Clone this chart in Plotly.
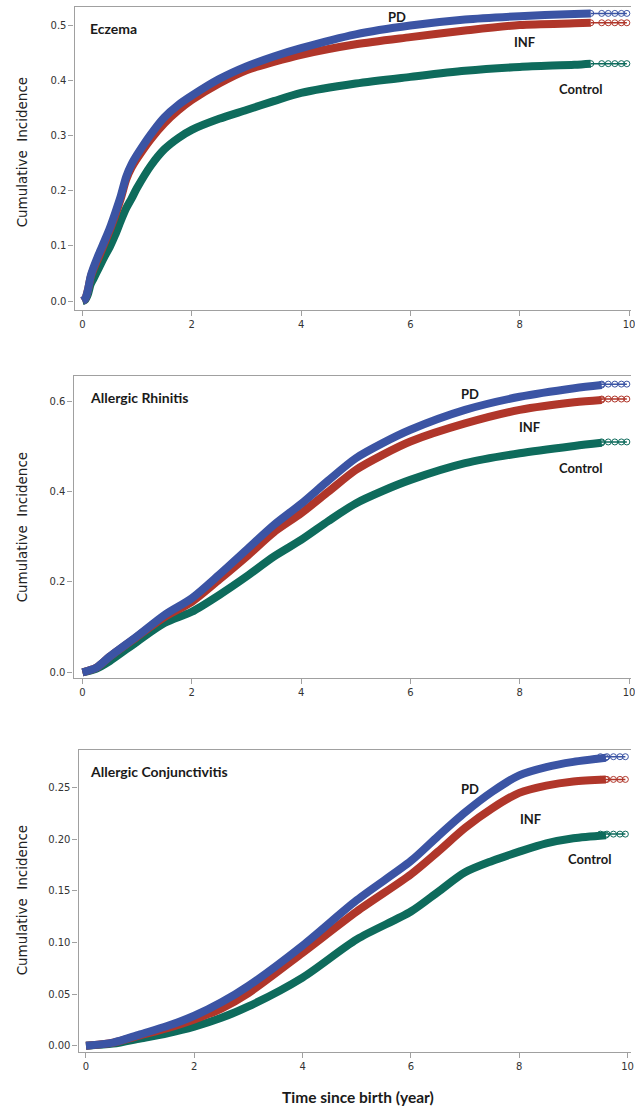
import plotly.graph_objects as go

W, H = 635, 1107

# ---------------- data ----------------
ecz_t = [0, 0.05, 0.1, 0.15, 0.2, 0.3, 0.4, 0.5, 0.6, 0.7, 0.8, 0.9, 1, 1.25, 1.5, 1.75, 2, 2.5, 3, 3.5, 4, 5, 6, 7, 8, 9, 9.3]
ecz_pd = [0, 0.004, 0.02, 0.045, 0.06, 0.085, 0.108, 0.132, 0.16, 0.19, 0.225, 0.248, 0.265, 0.302, 0.333, 0.355, 0.372, 0.402, 0.425, 0.443, 0.458, 0.483, 0.499, 0.51, 0.516, 0.52, 0.521]
ecz_inf = [0, 0.004, 0.02, 0.043, 0.057, 0.08, 0.104, 0.128, 0.155, 0.185, 0.22, 0.242, 0.258, 0.293, 0.322, 0.345, 0.364, 0.394, 0.418, 0.433, 0.446, 0.465, 0.478, 0.49, 0.5, 0.503, 0.504]
ecz_ctrl = [0, 0.002, 0.012, 0.03, 0.04, 0.06, 0.08, 0.098, 0.12, 0.145, 0.168, 0.186, 0.205, 0.245, 0.275, 0.295, 0.31, 0.33, 0.346, 0.362, 0.377, 0.394, 0.406, 0.417, 0.424, 0.428, 0.43]
ecz_end = [0.521, 0.504, 0.43]

rhi_t = [0, 0.25, 0.5, 1, 1.5, 2, 2.5, 3, 3.5, 4, 4.5, 5, 5.5, 6, 7, 8, 9, 9.5]
rhi_pd = [0, 0.01, 0.035, 0.08, 0.127, 0.164, 0.216, 0.271, 0.326, 0.373, 0.425, 0.474, 0.508, 0.537, 0.581, 0.61, 0.629, 0.636]
rhi_inf = [0, 0.01, 0.035, 0.079, 0.122, 0.156, 0.205, 0.256, 0.31, 0.352, 0.40, 0.448, 0.482, 0.511, 0.551, 0.581, 0.598, 0.603]
rhi_ctrl = [0, 0.008, 0.025, 0.068, 0.109, 0.134, 0.171, 0.212, 0.256, 0.293, 0.335, 0.374, 0.402, 0.426, 0.463, 0.485, 0.501, 0.508]
rhi_end = [0.638, 0.605, 0.51]

con_t = [0, 0.5, 1, 1.5, 2, 2.5, 3, 4, 5, 6, 6.5, 7, 7.5, 8, 8.5, 9, 9.6]
con_pd = [0, 0.003, 0.011, 0.019, 0.029, 0.042, 0.058, 0.097, 0.141, 0.179, 0.203, 0.226, 0.246, 0.262, 0.27, 0.275, 0.279]
con_inf = [0, 0.003, 0.01, 0.017, 0.0255, 0.036, 0.051, 0.09, 0.13, 0.166, 0.188, 0.211, 0.23, 0.245, 0.252, 0.256, 0.258]
con_ctrl = [0, 0.002, 0.007, 0.012, 0.0185, 0.027, 0.038, 0.066, 0.103, 0.13, 0.149, 0.168, 0.179, 0.188, 0.196, 0.201, 0.204]
con_end = [0.28, 0.258, 0.205]

censor_t = [9.5, 9.62, 9.74, 9.86, 9.96]

panel_titles = ["Eczema", "Allergic Rhinitis", "Allergic Conjunctivitis"]
group_names = ["PD", "INF", "Control"]
x_ticks = [0, 2, 4, 6, 8, 10]
y_ticks = [[0, 0.1, 0.2, 0.3, 0.4, 0.5], [0, 0.2, 0.4, 0.6], [0, 0.05, 0.10, 0.15, 0.20, 0.25]]
y_fmt = [".1f", ".1f", ".2f"]

colors = ["#3B54A4", "#B0362A", "#0E6B5C"]

panels = [
    (ecz_t, [ecz_pd, ecz_inf, ecz_ctrl], ecz_end),
    (rhi_t, [rhi_pd, rhi_inf, rhi_ctrl], rhi_end),
    (con_t, [con_pd, con_inf, con_ctrl], con_end),
]

# layout geometry (pixels)
frame = [  # left, top, bottom (px)
    (75, 7, 310),
    (74, 376, 678),
    (79, 750, 1052.3),
]
x_ranges = [[-0.145, 10.036], [-0.164, 10.036], [-0.138, 10.064]]
y_ranges = [[-0.0163, 0.5326], [-0.0126, 0.656], [-0.0064, 0.2865]]

fig = go.Figure()

for i, (t, series, ends) in enumerate(panels):
    xa = "x" if i == 0 else f"x{i+1}"
    ya = "y" if i == 0 else f"y{i+1}"
    for j in range(3):
        fig.add_trace(go.Scatter(
            x=[t[-1]] + censor_t, y=[series[j][-1]] + [ends[j]] * len(censor_t),
            mode="lines+markers", xaxis=xa, yaxis=ya,
            line=dict(color=colors[j], width=1.5),
            marker=dict(symbol="circle-open", size=6, color=colors[j], line=dict(width=1)),
            showlegend=False, hoverinfo="skip"))
    for j in [2, 1, 0]:
        fig.add_trace(go.Scatter(
            x=t, y=series[j], mode="lines", xaxis=xa, yaxis=ya,
            line=dict(color=colors[j], width=8, shape="spline", smoothing=0.8),
            showlegend=False, name=group_names[j]))

axis_common = dict(showgrid=False, zeroline=False, showline=True, linecolor="#A0A0A0",
                   linewidth=1.2, ticks="outside", ticklen=5, tickcolor="#A0A0A0",
                   tickfont=dict(family="DejaVu Sans", size=10, color="#333333"))

layout = dict(width=W, height=H, margin=dict(l=0, r=0, t=0, b=0),
              paper_bgcolor="white", plot_bgcolor="white", showlegend=False)

for i in range(3):
    left, top, bottom = frame[i]
    xkey = "xaxis" if i == 0 else f"xaxis{i+1}"
    ykey = "yaxis" if i == 0 else f"yaxis{i+1}"
    xa = "x" if i == 0 else f"x{i+1}"
    ya = "y" if i == 0 else f"y{i+1}"
    layout[xkey] = dict(axis_common, domain=[left / W, 1], range=x_ranges[i],
                        tickvals=x_ticks, mirror=True, anchor=ya, ticklabeloverflow="allow")
    layout[ykey] = dict(axis_common, domain=[1 - bottom / H, 1 - top / H], range=y_ranges[i],
                        tickvals=y_ticks[i], tickformat=y_fmt[i], mirror=False, anchor=xa)

fig.update_layout(**layout)


def px_ann(text, x, y, size, xanchor="center", angle=0, family="Lato", bold=True, color="#1a1a1a"):
    fig.add_annotation(
        text=f"<b>{text}</b>" if bold else text, x=x / W, y=1 - y / H, xref="paper", yref="paper",
        showarrow=False, xanchor=xanchor, yanchor="middle", textangle=angle,
        font=dict(family=family, size=size, color=color))


title_pos = [(89, 29), (89, 397), (89, 771)]
label_pos = [
    [(400, 17), (528, 42), (584, 89)],
    [(473, 394), (533, 427), (584, 468)],
    [(473, 789), (534, 819), (593, 859)],
]
ytitle_y = [152, 527, 900]

for i in range(3):
    px_ann(panel_titles[i], title_pos[i][0], title_pos[i][1], 14, xanchor="left")
    for j in range(3):
        px_ann(group_names[j], label_pos[i][j][0], label_pos[i][j][1], 13)
    px_ann("Cumulative  Incidence", 22.5, ytitle_y[i], 13.5, angle=-90,
           family="DejaVu Sans", bold=False, color="#222222")

px_ann("Time since birth (year)", 360, 1097, 15.5)

fig.write_html("out.html", config={"displayModeBar": False},
               post_script="document.body.style.margin='0';document.body.style.overflow='hidden';")
